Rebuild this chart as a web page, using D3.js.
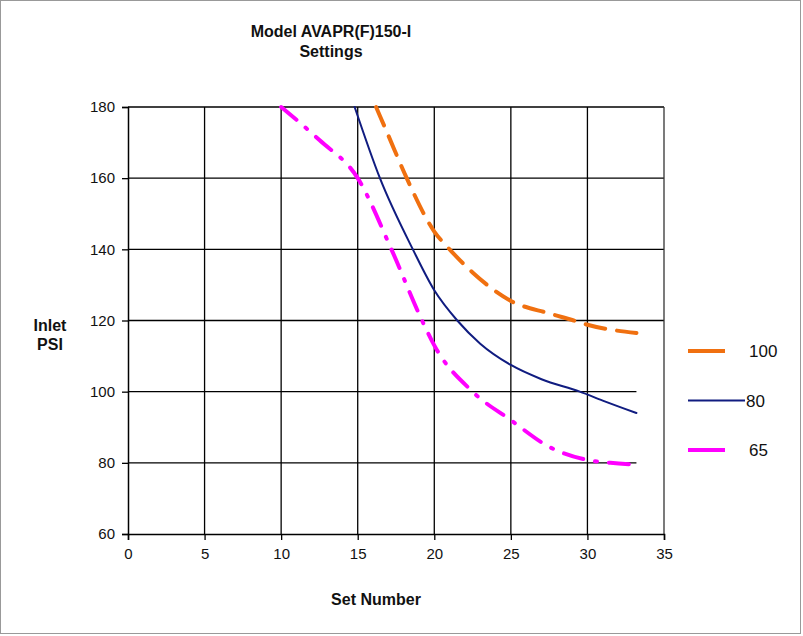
<!DOCTYPE html>
<html>
<head>
<meta charset="utf-8">
<script src="https://cdn.jsdelivr.net/npm/d3@7"></script>
<style>
body { margin: 0; background: #fff; }
text { font-family: "Liberation Sans", Arial, sans-serif; fill: #111; }
</style>
</head>
<body>
<script>
var width = 803,
	height = 636;

// set number / inlet psi
var x100 = [16.2, 17, 18.2, 20, 21, 22.5, 25, 27.5, 29.1, 30, 33.2],
	y100 = [180, 172, 160, 145, 140, 133.5, 125.5, 122, 120, 118.8, 116.5];
var x80 = [14.8, 16.45, 18.6, 20, 21.5, 23, 25, 27, 29.5, 31, 33.2],
	y80 = [180, 160, 140, 128.5, 120, 113.5, 107.5, 103.5, 100, 97.5, 94];
var x65 = [10, 12.5, 15, 17.2, 19.2, 20, 22.5, 25, 27.5, 30, 31.5, 33.2],
	y65 = [180, 170.7, 160, 140, 120, 113, 100, 92, 84.5, 80.8, 80, 79.5];

var xTicks = [0, 5, 10, 15, 20, 25, 30, 35],
	yTicks = [60, 80, 100, 120, 140, 160, 180];

var series = [
	{ name: '100', xs: x100, ys: y100, color: '#f07010', w: 4, dash: '20,12', legLen: 37 },
	{ name: '80', xs: x80, ys: y80, color: '#101c80', w: 2, dash: null, legLen: 57 },
	{ name: '65', xs: x65, ys: y65, color: '#ff00ff', w: 4, dash: '20,12,2,12', legLen: 37 }
];

var plot = { left: 128, right: 664, top: 107, bottom: 534 };

var svg = d3.select('body')
	.append('svg')
	.attr('width', width)
	.attr('height', height);

svg.append('rect')
	.attr('x', 0.5).attr('y', 0.5)
	.attr('width', width - 3).attr('height', height - 3)
	.attr('fill', 'none')
	.attr('stroke', '#999');

var x = d3.scaleLinear().domain([0, 35]).range([plot.left, plot.right]);
var y = d3.scaleLinear().domain([60, 180]).range([plot.bottom, plot.top]);

// grid
var g = svg.append('g').attr('stroke', '#000').attr('stroke-width', 1.3);
g.selectAll('.vg')
	.data(xTicks.slice(1, -1))
	.enter()
	.append('line')
	.attr('x1', function(d) { return x(d); })
	.attr('x2', function(d) { return x(d); })
	.attr('y1', y(180))
	.attr('y2', y(60));
g.selectAll('.hg')
	.data(yTicks.slice(1))
	.enter()
	.append('line')
	.attr('x1', x(0))
	.attr('x2', function(d) { return d <= 100 ? x(33.2) : x(35); })
	.attr('y1', function(d) { return y(d); })
	.attr('y2', function(d) { return y(d); });
g.append('line')
	.attr('x1', x(35)).attr('x2', x(35))
	.attr('y1', y(180)).attr('y2', y(60))
	.attr('stroke', '#333');

// axes
var xAxis = svg.append('g')
	.attr('transform', 'translate(0,' + y(60) + ')')
	.call(d3.axisBottom(x).tickValues(xTicks).tickSize(6).tickPadding(8));
var yAxis = svg.append('g')
	.attr('transform', 'translate(' + x(0) + ',0)')
	.call(d3.axisLeft(y).tickValues(yTicks).tickSize(6).tickPadding(7));
[xAxis, yAxis].forEach(function(a) {
	a.select('.domain').attr('stroke', '#000').attr('stroke-width', 1.5);
	a.selectAll('.tick line').attr('stroke', '#000').attr('stroke-width', 1.3);
	a.selectAll('.tick text')
		.style('font-family', '"Liberation Sans", Arial, sans-serif')
		.style('font-size', '15px')
		.attr('fill', '#222');
});

// lines
var line = d3.line()
	.x(function(d) { return x(d[0]); })
	.y(function(d) { return y(d[1]); })
	.curve(d3.curveMonotoneX);

series.forEach(function(s) {
	var pts = s.xs.map(function(v, i) { return [v, s.ys[i]]; });
	svg.append('path')
		.datum(pts)
		.attr('d', line)
		.attr('fill', 'none')
		.attr('stroke', s.color)
		.attr('stroke-width', s.w)
		.attr('stroke-linecap', 'round')
		.attr('stroke-dasharray', s.dash);
});

// legend
series.forEach(function(s, i) {
	var ly = 351 + i * 49.5;
	svg.append('line')
		.attr('x1', 688).attr('x2', 688 + s.legLen)
		.attr('y1', ly).attr('y2', ly)
		.attr('stroke', s.color)
		.attr('stroke-width', s.w === 2 ? 2 : 4);
	svg.append('text')
		.attr('x', s.legLen > 40 ? 746 : 749)
		.attr('y', ly + 6)
		.style('font-size', '17px')
		.text(s.name);
});

// titles
var bold = function(t, tx, ty, fs) {
	svg.append('text')
		.attr('x', tx).attr('y', ty)
		.attr('text-anchor', 'middle')
		.style('font-size', fs + 'px')
		.style('font-weight', 'bold')
		.text(t);
};
bold('Model AVAPR(F)150-I', 331, 37, 16);
bold('Settings', 331, 57, 16);
bold('Inlet', 50, 331, 16);
bold('PSI', 50, 350, 16);
bold('Set Number', 376, 605, 16);
</script>
</body>
</html>
